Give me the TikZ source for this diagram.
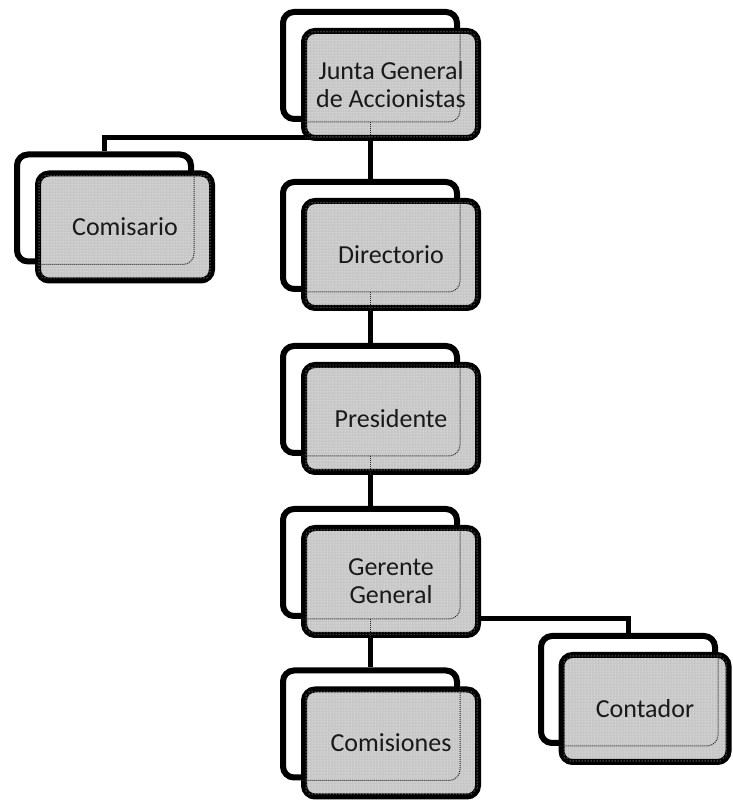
\documentclass[tikz,border=0pt]{standalone}
\usepackage{fontspec}
\setmainfont{Carlito}
\usepackage{tikz}
\usetikzlibrary{patterns, backgrounds, calc, positioning}

\begin{document}
\begin{tikzpicture}[x=1pt, y=1pt,
  backbox/.style={draw, line width=6pt, rounded corners=11pt, fill=white,
    minimum width=174pt, minimum height=107pt, inner sep=0pt},
  frontbox/.style={backbox, fill=black!22, postaction={pattern=dots, pattern color=white},
    align=center, text=black!90, font=\fontsize{26}{28}\selectfont},
  link/.style={line width=5pt},
  ghost/.style={densely dotted, line width=1pt, black!85}]

\useasboundingbox (0,0) rectangle (733,800);

% Back sheets
\foreach \name/\x/\y in {junta/370/734.5, comisario/104/592, directorio/370/564.5,
    presidente/370/400.5, gerente/370/237.5, comisiones/370/76, contador/628/110.5}
  \node[backbox] (\name) at (\x,\y) {};

% Front sheets
\node[frontbox] (junta-f) at ($(junta)+(21,-19)$) {Junta General\\de Accionistas};
\node[frontbox] (comisario-f) at ($(comisario)+(21,-19)$) {Comisario};
\node[frontbox] (directorio-f) at ($(directorio)+(21,-19)$) {Directorio};
\node[frontbox] (presidente-f) at ($(presidente)+(21,-19)$) {Presidente};
\node[frontbox] (gerente-f) at ($(gerente)+(21,-19)$) {Gerente\\General};
\node[frontbox] (comisiones-f) at ($(comisiones)+(21,-19)$) {Comisiones};
\node[frontbox, minimum width=167pt] (contador-f) at ($(contador)+(17,-19)$) {Contador};

% Links
\coordinate (split) at ($(junta.south)+(0,-16)$);
\begin{scope}[on background layer]
  \draw[link] (junta.south) -- (directorio.north);
  \draw[link] (junta.south) -- (split) -| (comisario.north);
  \draw[link] (directorio.south) -- (presidente.north);
  \draw[link] (presidente.south) -- (gerente.north);
  \draw[link] (gerente.south) -- (comisiones.north);
  \draw[link] (gerente.south) -| (contador.north);
\end{scope}

% See-through edges
\foreach \name in {junta, comisario, directorio, presidente, gerente, comisiones, contador} {
  \begin{scope}
    \clip[rounded corners=11pt] (\name-f.south west) rectangle (\name-f.north east);
    \draw[ghost, rounded corners=11pt] (\name.south west) rectangle (\name.north east);
  \end{scope}
}
\begin{scope}
  \clip[rounded corners=11pt] (junta-f.south west) rectangle (junta-f.north east);
  \draw[ghost] (junta.south) -- (split) -- (split -| junta-f.west);
\end{scope}
\foreach \name in {directorio, presidente, gerente} {
  \begin{scope}
    \clip[rounded corners=11pt] (\name-f.south west) rectangle (\name-f.north east);
    \draw[ghost] (\name.south) -- ($(\name.south)+(0,-20)$);
  \end{scope}
}

\end{tikzpicture}
\end{document}
